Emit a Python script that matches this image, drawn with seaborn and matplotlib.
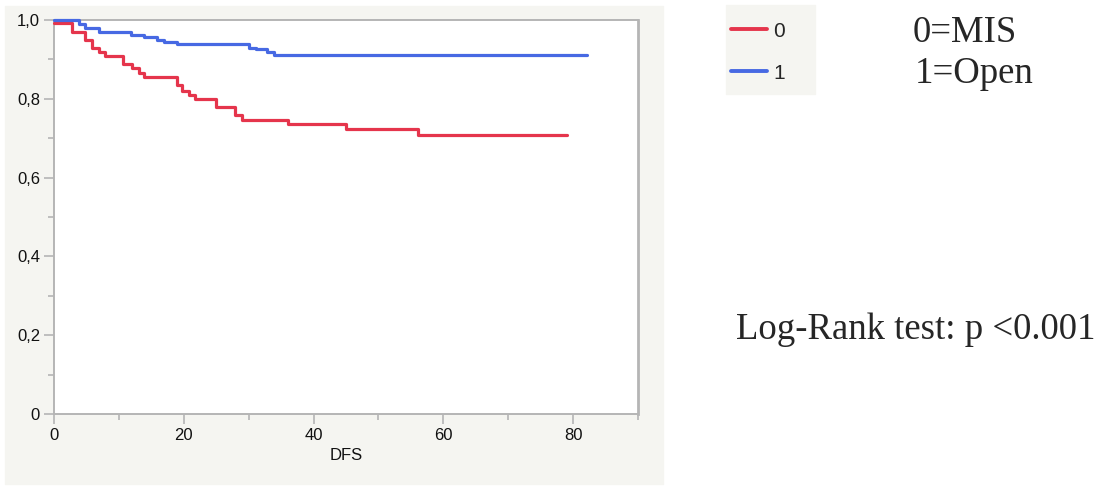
import numpy as np
import pandas as pd
import matplotlib
matplotlib.use("Agg")
import matplotlib.pyplot as plt
import seaborn as sns
from matplotlib.patches import Rectangle
from matplotlib.ticker import FixedLocator
from matplotlib.lines import Line2D

# === DATA ===
times_mis = [0, 2.8, 4.8, 5.8, 7.0, 7.9, 10.7, 12.0, 13.1, 13.9, 19.0, 19.8,
             20.8, 21.8, 24.9, 27.9, 29.0, 36.0, 45.0, 56.1, 79.1]
surv_mis = [0.993, 0.970, 0.949, 0.929, 0.919, 0.908, 0.889, 0.877, 0.866,
            0.855, 0.834, 0.821, 0.810, 0.800, 0.779, 0.758, 0.747, 0.735,
            0.723, 0.707, 0.707]

times_open = [0, 3.9, 4.8, 6.9, 11.9, 13.8, 15.8, 16.9, 18.9, 30.1, 31.1,
              32.9, 33.9, 82.2]
surv_open = [1.0, 0.990, 0.980, 0.969, 0.962, 0.956, 0.949, 0.943, 0.938,
             0.930, 0.926, 0.918, 0.910, 0.910]

groups = ["0", "1"]
colors = {"0": "#e5354c", "1": "#4769e3"}

x_ticks = [0, 20, 40, 60, 80]
x_labels = ["0", "20", "40", "60", "80"]
y_ticks = [0, 0.2, 0.4, 0.6, 0.8, 1.0]
y_labels = ["0", "0,2", "0,4", "0,6", "0,8", "1,0"]

df = pd.concat([
    pd.DataFrame({"DFS": times_mis, "Survival": surv_mis, "Group": "0"}),
    pd.DataFrame({"DFS": times_open, "Survival": surv_open, "Group": "1"}),
], ignore_index=True)

# === FIGURE ===
sns.set_style("white")
plt.rcParams["font.family"] = ["Liberation Sans", "DejaVu Sans"]

fig = plt.figure(figsize=(11, 4.87), dpi=100)
panel_bg = "#f5f5f1"
fig.patches.append(Rectangle((5 / 1100, 1 - 484 / 487), 658 / 1100, 478 / 487,
                             transform=fig.transFigure, color=panel_bg, zorder=-5))
fig.patches.append(Rectangle((726 / 1100, 1 - 94 / 487), 89 / 1100, 89 / 487,
                             transform=fig.transFigure, color=panel_bg, zorder=-5))

ax = fig.add_axes([54 / 1100, 1 - 414 / 487, 584 / 1100, 394 / 487])
ax.set_zorder(2)
ax.set_facecolor("white")

for g in groups:
    sub = df[df["Group"] == g]
    sns.lineplot(data=sub, x="DFS", y="Survival", ax=ax, color=colors[g],
                 drawstyle="steps-post", lw=2.3, estimator=None, legend=False,
                 clip_on=False, zorder=3)

ax.set_xlim(0, 90)
ax.set_ylim(0, 1.0)
ax.xaxis.set_major_locator(FixedLocator(x_ticks))
ax.xaxis.set_minor_locator(FixedLocator([10, 30, 50, 70, 90]))
ax.yaxis.set_major_locator(FixedLocator(y_ticks))
ax.yaxis.set_minor_locator(FixedLocator([0.1, 0.3, 0.5, 0.7, 0.9]))
ax.set_yticklabels(y_labels)
ax.set_xticklabels(x_labels)

spine_c = "#b5b5b5"
for side, sp in ax.spines.items():
    sp.set_color(spine_c)
    sp.set_linewidth(1.4)
ax.spines["right"].set_linewidth(2.0)
ax.tick_params(axis="both", which="major", direction="out", length=7, width=1.2,
               color=spine_c, labelsize=12, labelcolor="#111111", pad=3)
ax.tick_params(axis="both", which="minor", direction="out", length=4, width=1.2,
               color=spine_c)
ax.tick_params(axis="x", bottom=True, which="both")
ax.tick_params(axis="y", left=True, which="both")

ax.set_xlabel("DFS", fontsize=12, labelpad=4, color="#111111")
ax.set_ylabel("")

# === LEGEND ===
handles = [Line2D([], [], color=colors[g], lw=2.8) for g in groups]
fig.legend(handles, groups, loc="upper left",
           bbox_to_anchor=(712 / 1100, 1 - 3 / 487), frameon=False,
           fontsize=15, handlelength=1.75, handletextpad=0.3, labelspacing=1.1)

# === ANNOTATIONS ===
serif = ["Liberation Serif", "DejaVu Serif"]
fig.text(913 / 1100, 1 - 33 / 487, "0=MIS", family=serif, fontsize=26.5,
         va="center", ha="left")
fig.text(915 / 1100, 1 - 74 / 487, "1=Open", family=serif, fontsize=26.5,
         va="center", ha="left")
fig.text(736 / 1100, 1 - 330 / 487, "Log-Rank test: p <0.001", family=serif,
         fontsize=26.5, va="center", ha="left")

plt.savefig("out.png", dpi=100, facecolor="white")
